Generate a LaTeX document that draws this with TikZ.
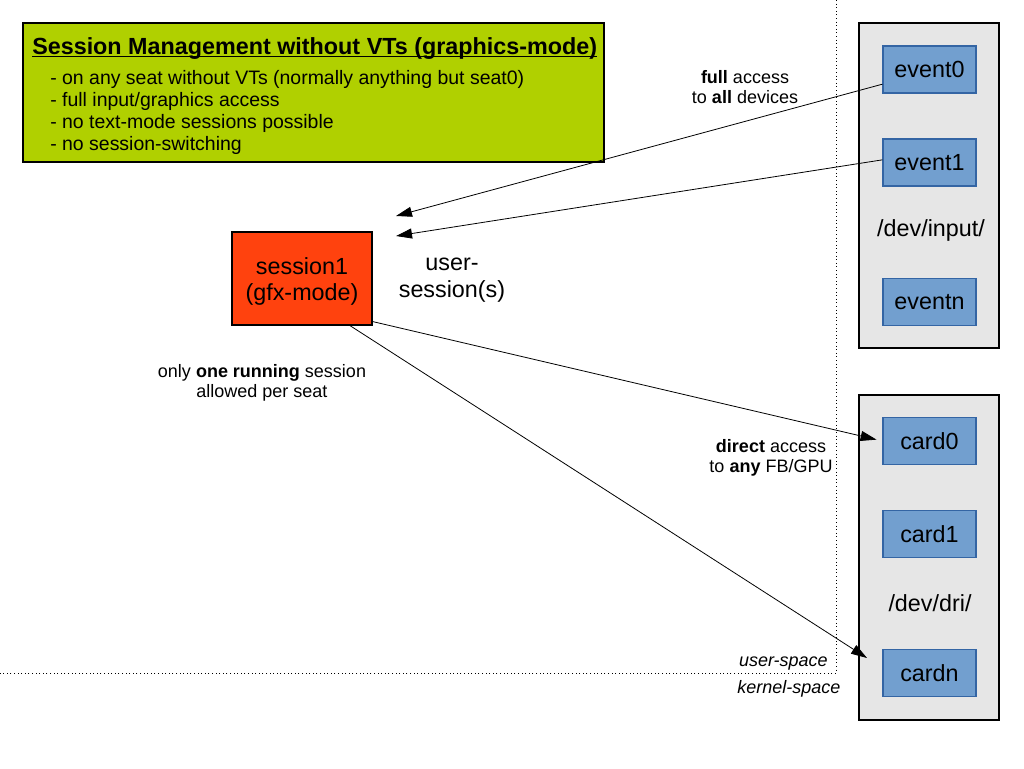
\documentclass[tikz,border=0pt]{standalone}
\usepackage{fontspec}
\setmainfont{Liberation Sans}
\usetikzlibrary{arrows.meta}
\definecolor{grn}{RGB}{176,208,0}
\definecolor{orng}{RGB}{255,66,14}
\definecolor{devfill}{RGB}{114,159,207}
\definecolor{devline}{RGB}{52,101,164}
\definecolor{grp}{RGB}{230,230,230}
\tikzset{
  dev/.style={draw=devline, fill=devfill, line width=0.9pt, minimum width=69.75pt, minimum height=35.25pt, inner sep=0pt, font=\fontsize{17.5}{20}\selectfont},
  grpbox/.style={draw=black, fill=grp, line width=0.8pt, minimum width=105pt, minimum height=243.75pt, inner sep=0pt},
  big/.style={font=\fontsize{17.5}{20}\selectfont},
  small/.style={font=\fontsize{13.5}{15}\selectfont, inner sep=0pt, align=center},
  bul/.style={font=\fontsize{14.6}{16}\selectfont, anchor=base west, inner sep=0pt},
  arr/.style={line width=0.6pt, -{Triangle[length=12pt,width=7.5pt]}},
  sep/.style={dotted, line width=0.7pt}
}
\begin{document}
\begin{tikzpicture}[x=0.75pt,y=-0.75pt]
\useasboundingbox (0,0) rectangle (1024,768);
% green box
\node[draw=black, fill=grn, line width=0.8pt, minimum width=435.75pt, minimum height=104.25pt, inner sep=0pt] (info) at (313.5,92.5) {};
\node[anchor=base west, inner sep=0pt, font=\fontsize{17.5}{20}\selectfont\bfseries] (title) at (32,54) {Session Management without VTs (graphics-mode)};
\draw[line width=1.1pt] ([yshift=-2pt]title.base west) -- ([yshift=-2pt]title.base east);
\node[bul] (b1) at (50,84) {- on any seat without VTs (normally anything but seat0)};
\node[bul] (b2) at (50,106) {- full input/graphics access};
\node[bul] (b3) at (50,128) {- no text-mode sessions possible};
\node[bul] (b4) at (50,150) {- no session-switching};
% separators
\coordinate (vtop) at (836,0);
\coordinate (corner) at (836,673);
\coordinate (hleft) at (0,673);
\draw[sep] (vtop) -- (corner) -- (hleft);
\node[font=\fontsize{13.5}{15}\selectfont\itshape, anchor=base east, inner sep=0pt] (us) at (828,666) {user-space};
\node[font=\fontsize{13.5}{15}\selectfont\itshape, anchor=base west, inner sep=0pt] (ks) at (737,693) {kernel-space};
% groups
\node[grpbox] (ginput) at (929,185.5) {};
\node[grpbox] (gdri) at (929,557.5) {};
\node[dev] (event0) at (929.5,69.5) {event0};
\node[dev] (event1) at (929.5,162.5) {event1};
\node[big] (inputlbl) at (931,230) {/dev/input/};
\node[dev] (eventn) at (929.5,302) {eventn};
\node[dev] (card0) at (929.5,441) {card0};
\node[dev] (card1) at (929.5,534) {card1};
\node[big] (drilbl) at (930,603) {/dev/dri/};
\node[dev] (cardn) at (929.5,673) {cardn};
% session
\node[draw=black, fill=orng, line width=0.8pt, minimum width=105pt, minimum height=69.75pt, inner sep=0pt] (session) at (302,278.5) {};
\node[big, align=center, inner sep=0pt, font=\fontsize{17.5}{19.5}\selectfont] (sesslbl) at (302,281.5) {session1\\(gfx-mode)};
\node[big, align=center, inner sep=0pt] (usess) at (452,280) {user-\\session(s)};
\node[small] (onlyone) at (262,382.5) {only \textbf{one running} session\\allowed per seat};
\node[small] (fullacc) at (745,87) {\textbf{full} access\\to \textbf{all} devices};
\node[small] (directacc) at (771,458) {\textbf{direct} access\\to \textbf{any} FB/GPU};
% arrows
\coordinate (tipA) at (396,216);
\coordinate (tipB) at (396,236);
\coordinate (tipD) at (867,658);
\draw[arr] ([yshift=-11pt]event0.west) -- (tipA);
\draw[arr] ([yshift=2pt]event1.west) -- (tipB);
\draw[arr, shorten >=4.5pt] ([yshift=3pt]session.south east) -- (card0.west);
\draw[arr] ([xshift=-17pt]session.south east) -- (tipD);
\end{tikzpicture}
\end{document}
